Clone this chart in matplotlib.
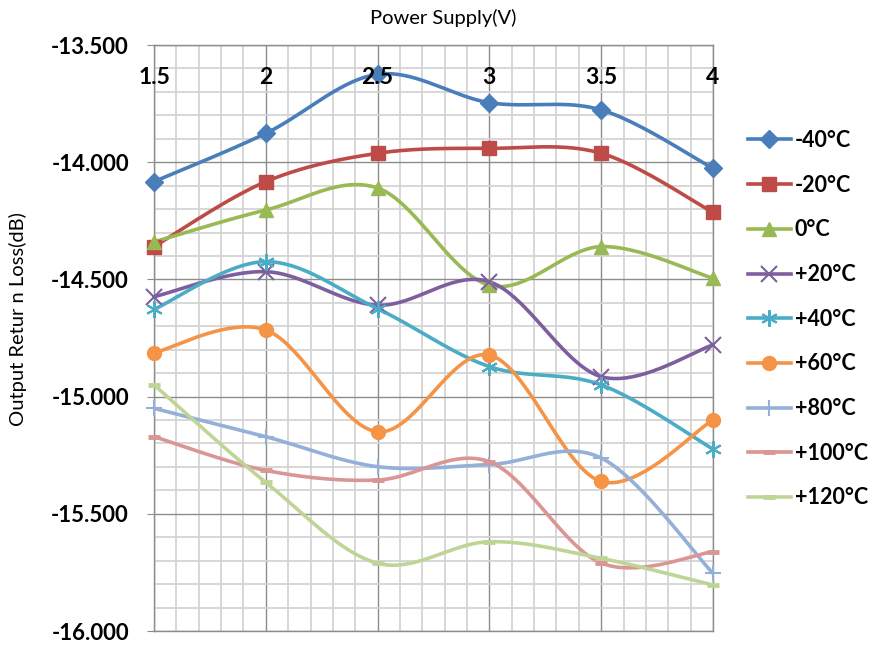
import numpy as np
import matplotlib
matplotlib.use("Agg")
import matplotlib.pyplot as plt
from matplotlib.ticker import MultipleLocator, FormatStrFormatter

# supply voltage categories (top axis)
voltages = [1.5, 2.0, 2.5, 3.0, 3.5, 4.0]
volt_labels = ["1.5", "2", "2.5", "3", "3.5", "4"]

# output return loss (dB) per temperature
m40 = [-14.083, -13.877, -13.625, -13.746, -13.777, -14.026]
m20 = [-14.360, -14.083, -13.962, -13.941, -13.962, -14.214]
t0 = [-14.340, -14.204, -14.110, -14.525, -14.360, -14.495]
p20 = [-14.574, -14.467, -14.610, -14.510, -14.915, -14.780]
p40 = [-14.628, -14.424, -14.625, -14.872, -14.950, -15.224]
p60 = [-14.813, -14.716, -15.150, -14.823, -15.362, -15.100]
p80 = [-15.050, -15.171, -15.299, -15.290, -15.262, -15.754]
p100 = [-15.171, -15.315, -15.356, -15.278, -15.710, -15.662]
p120 = [-14.950, -15.366, -15.711, -15.619, -15.690, -15.804]

series_names = ["-40°C", "-20°C", "0°C", "+20°C", "+40°C", "+60°C",
                "+80°C", "+100°C", "+120°C"]
series_vals = [m40, m20, t0, p20, p40, p60, p80, p100, p120]

colors = ["#4A7EBB", "#BE4B48", "#98B954", "#7D5FA0", "#4BACC6",
          "#F59446", "#95B0D8", "#D99694", "#BED596"]
markers = ["D", "s", "^", "x", (6, 2, 0), "o", "+", "_", "_"]
msizes = [9, 10, 10, 11, 12, 10, 12, 9, 9]
mews = [1, 1, 1, 1.5, 1.5, 1, 1.5, 3.5, 3.5]


def smooth(xs, ys, n=40):
    # Excel style smoothed line: bezier through points, tension 1/6
    pts = np.column_stack([xs, ys]).astype(float)
    ext = np.vstack([pts[0], pts, pts[-1]])
    out = []
    for i in range(len(pts) - 1):
        p0, p1, p2, p3 = ext[i], ext[i + 1], ext[i + 2], ext[i + 3]
        c1 = p1 + (p2 - p0) / 6.0
        c2 = p2 - (p3 - p1) / 6.0
        t = np.linspace(0, 1, n)[:, None]
        seg = ((1 - t) ** 3) * p1 + 3 * ((1 - t) ** 2) * t * c1 \
            + 3 * (1 - t) * t ** 2 * c2 + t ** 3 * p2
        out.append(seg if i == 0 else seg[1:])
    out = np.vstack(out)
    return out[:, 0], out[:, 1]


plt.rcParams['font.family'] = ['Lato', 'DejaVu Sans']

fig = plt.figure(figsize=(8.73, 6.46), dpi=100)
ax = fig.add_axes([154 / 873, 1 - 631 / 646, (713 - 154) / 873, (631 - 45) / 646])

# grid
ax.set_xlim(1.5, 4.0)
ax.set_ylim(-16.0, -13.5)
ax.xaxis.set_major_locator(MultipleLocator(0.5))
ax.xaxis.set_minor_locator(MultipleLocator(0.1))
ax.yaxis.set_major_locator(MultipleLocator(0.5))
ax.yaxis.set_minor_locator(MultipleLocator(0.1))
ax.grid(which='minor', color='#D4D4D4', lw=1.3, zorder=0)
ax.grid(which='major', color='#8C8C8C', lw=1.0, zorder=0)
ax.set_axisbelow(True)
for s in ax.spines.values():
    s.set_color('#8C8C8C')
    s.set_linewidth(1.0)

ax.yaxis.set_major_formatter(FormatStrFormatter('%.3f'))
ax.tick_params(axis='y', which='major', length=5, color='#8C8C8C', pad=13,
               labelsize=16)
for lab in ax.get_yticklabels():
    lab.set_fontweight('bold')
ax.tick_params(axis='y', which='minor', length=0)
ax.tick_params(axis='x', which='both', length=0, labelbottom=False)

for v, lab in zip(voltages, volt_labels):
    ax.text(v, -13.637, lab, ha='center', va='center', fontsize=16.5,
            fontweight='bold', zorder=5)

for name, vals, c, mk, ms, mw in zip(series_names, series_vals, colors,
                                     markers, msizes, mews):
    sx, sy = smooth(voltages, vals)
    ax.plot(sx, sy, color=c, lw=2.6, zorder=3, solid_capstyle='round')
    ax.plot(voltages, vals, ls='none', marker=mk, ms=ms, color=c,
            mec=c, mew=mw, zorder=4, clip_on=False)
    ax.plot([], [], color=c, lw=2.6, marker=mk, ms=ms, mec=c, mew=mw,
            label=name)

fig.text(443 / 873, 1 - 18 / 646, "Power Supply(V)",
         ha='center', va='center', fontsize=14.5)
fig.text(18 / 873, 1 - 319 / 646, "Output Retur n Loss(dB)", rotation=90,
         ha='center', va='center', fontsize=14.5)

leg = ax.legend(loc='upper left', bbox_to_anchor=(748 / 873, 1 - 130 / 646),
                bbox_transform=fig.transFigure, frameon=False, fontsize=15.5,
                handlelength=1.98, handletextpad=0.2, labelspacing=1.1,
                numpoints=1, borderpad=0, borderaxespad=0)
for t in leg.get_texts():
    t.set_fontweight('bold')

fig.savefig("out.png", dpi=100)
